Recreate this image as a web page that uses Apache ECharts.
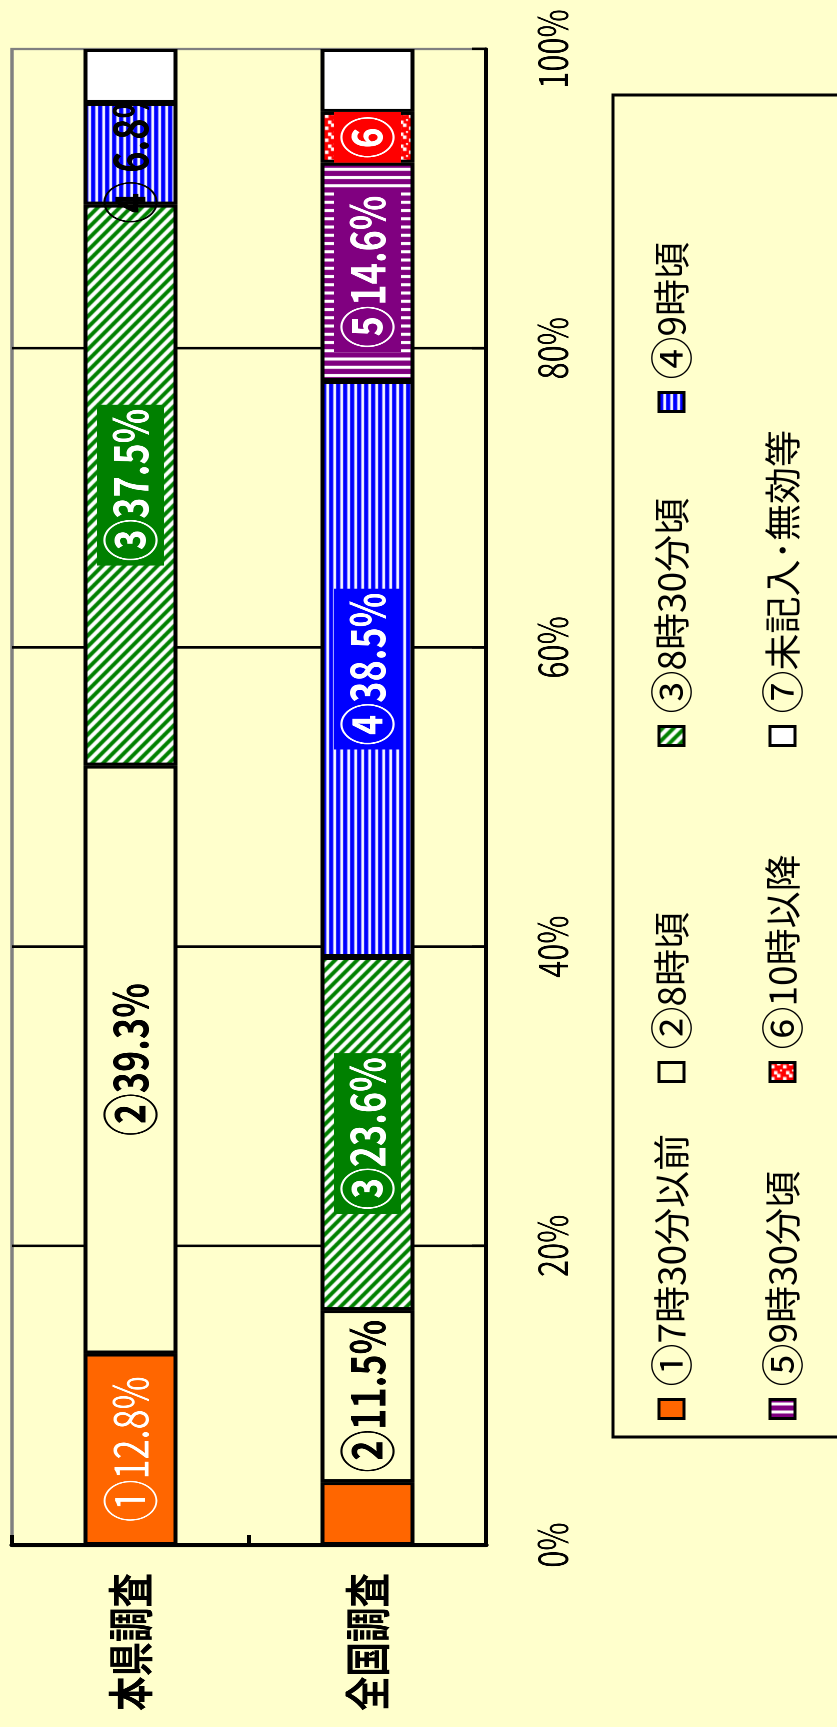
<!DOCTYPE html>
<html>
<head>
<meta charset="utf-8">
<script src="https://cdn.jsdelivr.net/npm/echarts@6/dist/echarts.min.js"></script>
<style>
  html, body { margin: 0; padding: 0; width: 837px; height: 1727px; overflow: hidden; background: #FFFFCC; }
  /* the chart is laid out landscape and turned a quarter turn counter-clockwise */
  #page { position: absolute; left: 0; top: 0; width: 1727px; height: 837px;
          transform-origin: 0 0; transform: translate(0, 1727px) rotate(-90deg); background: #FFFFCC; }
  /* plot area drawn wide and squeezed horizontally for narrow lettering */
  #plot { position: absolute; left: 0; top: 0; width: 2303px; height: 837px;
          transform-origin: 0 0; transform: scaleX(0.75); }
  #legend { position: absolute; left: 0; top: 0; width: 1727px; height: 837px; }
</style>
</head>
<body>
<div id="page"><div id="plot"></div><div id="legend"></div></div>
<script>
// ---- data ----
const categories = ['本県調査', '全国調査'];
const seriesNames = ['①7時30分以前', '②8時頃', '③8時30分頃', '④9時頃', '⑤9時30分頃', '⑥10時以降', '⑦未記入･無効等'];
const prefectureValues = [12.8, 39.3, 37.5, 6.8, 0, 0, 3.6];
const nationalValues = [4.2, 11.5, 23.6, 38.5, 14.6, 3.4, 4.2];
const axisMin = 0, axisMax = 100, axisStep = 20;

// ---- label looks per segment ----
const prefLabelKinds = ['light', 'dark', 'green', 'spaced', '', '', ''];
const natLabelKinds = ['', 'dark', 'green', 'blue', 'purple', 'red', ''];

const SX = 0.75;                 // horizontal squeeze of the plot canvas
const ux = px => px / SX;        // horizontal page px -> plot units
const FONT = '"Noto Sans CJK JP", "Noto Sans", sans-serif';
const LABEL_SIZE = 48, MARK_SIZE = 57;

const LABEL_KINDS = {
  light:  { color: '#fff', weight: 'normal' },
  dark:   { color: '#000' },
  spaced: { color: '#000', spaced: true },
  green:  { color: '#fff', bg: '#008000' },
  blue:   { color: '#fff', bg: '#0000FF' },
  purple: { color: '#fff', bg: '#800080' },
  red:    { color: '#fff', bg: '#FF0000', markOnly: true }
};

function labelFor(kind, name, value) {
  if (!kind) return { show: false };
  const k = LABEL_KINDS[kind];
  const mark = name.charAt(0);
  const rest = k.markOnly ? '' : (k.spaced ? ' ' : '') + value.toFixed(1) + '%';
  const weight = k.weight || 'bold';
  return {
    show: true, position: 'inside',
    formatter: '{m|' + mark + '}' + (rest ? '{v|' + rest + '}' : ''),
    color: k.color, fontWeight: weight, fontSize: LABEL_SIZE, fontFamily: FONT,
    backgroundColor: k.bg || 'transparent', padding: k.bg ? [5, ux(4)] : 0,
    rich: {
      m: { color: k.color, fontWeight: weight, fontSize: MARK_SIZE, fontFamily: FONT },
      v: { color: k.color, fontWeight: weight, fontSize: LABEL_SIZE, fontFamily: FONT }
    }
  };
}

// ---- fill patterns (sx = horizontal squeeze of the target canvas) ----
function tile(w, h, draw) {
  const c = document.createElement('canvas');
  c.width = w; c.height = h;
  draw(c.getContext('2d'), w, h);
  return { image: c, repeat: 'repeat' };
}
function fills(sx) {
  const diag = tile(Math.round(33 / sx), 33, (g, w, h) => {
    const p = w / 3;
    g.fillStyle = '#fff'; g.fillRect(0, 0, w, h);
    g.fillStyle = '#008000';
    for (let k = -4; k <= 4; k++) {
      const x0 = k * p;
      g.beginPath();
      g.moveTo(x0, 0); g.lineTo(x0 + p / 2, 0);
      g.lineTo(x0 + p / 2 + w, h); g.lineTo(x0 + w, h);
      g.closePath(); g.fill();
    }
  });
  const hStripe = tile(4, 7, (g, w) => {
    g.fillStyle = '#fff'; g.fillRect(0, 0, w, 7);
    g.fillStyle = '#0000FF'; g.fillRect(0, 0, w, 4.3);
  });
  const vStripe = tile(Math.round(8.25 / sx), 4, (g, w, h) => {
    g.fillStyle = '#fff'; g.fillRect(0, 0, w, h);
    g.fillStyle = '#800080'; g.fillRect(0, 0, w * 0.63, h);
  });
  const dots = tile(Math.round(12 / sx), 12, (g, w, h) => {
    const f = w / 12;
    g.fillStyle = '#FF0000'; g.fillRect(0, 0, w, h);
    g.fillStyle = '#fff';
    [[1, 1], [7, 4], [4, 7], [10, 10]].forEach(([x, y]) => g.fillRect(x * f, y, 3.5 * f, 3.5));
  });
  return ['#FF6600', '#FFFFCC', diag, hStripe, vStripe, dots, '#FFFFFF'];
}

// ---- plot ----
const plot = echarts.init(document.getElementById('plot'), null, { renderer: 'canvas', devicePixelRatio: 2 });
const fillsA = fills(SX);
plot.setOption({
  animation: false,
  backgroundColor: '#FFFFCC',
  grid: {
    left: ux(182), top: 12, width: ux(1496), height: 474,
    show: true, borderColor: '#808080', borderWidth: 3.5, backgroundColor: 'transparent'
  },
  xAxis: {
    type: 'value', min: axisMin, max: axisMax, interval: axisStep, position: 'bottom',
    axisLine: { show: true, lineStyle: { color: '#000', width: 4 } },
    axisTick: { show: true, inside: true, length: 14, lineStyle: { color: '#000', width: ux(2.6) } },
    splitLine: { show: true, showMinLine: false, showMaxLine: false, lineStyle: { color: '#000', width: ux(2.6) } },
    axisLabel: { formatter: v => v + '%', color: '#000', fontSize: 41, fontFamily: FONT, margin: 46 }
  },
  yAxis: {
    type: 'category', data: categories, inverse: true,
    axisLine: { show: true, lineStyle: { color: '#000', width: ux(4) } },
    axisTick: { show: true, inside: true, length: ux(10), lineStyle: { color: '#000', width: 4 } },
    axisLabel: { color: '#000', fontSize: 46, fontWeight: 'bold', fontFamily: FONT, margin: ux(28) },
    splitLine: { show: false }
  },
  series: seriesNames.map((name, i) => ({
    name, type: 'bar', stack: 'total', barWidth: 94, z: 2 + i,
    emphasis: { disabled: true },
    itemStyle: { color: fillsA[i], borderColor: '#000', borderWidth: 4 },
    data: [
      { value: prefectureValues[i], label: labelFor(prefLabelKinds[i], name, prefectureValues[i]) },
      { value: nationalValues[i], label: labelFor(natLabelKinds[i], name, nationalValues[i]) }
    ]
  }))
});

// ---- legend ----
const legendChart = echarts.init(document.getElementById('legend'), null, { renderer: 'canvas', devicePixelRatio: 2 });
const fillsB = fills(1);
const columnLefts = [307, 644, 980, 1314];
const legends = columnLefts.map((left, c) => ({
  data: [seriesNames[c], seriesNames[c + 4]].filter(Boolean),
  orient: 'vertical', left, top: 650, padding: 0, itemGap: 68,
  icon: 'rect', itemWidth: 19, itemHeight: 25, selectedMode: false,
  itemStyle: { borderColor: '#000', borderWidth: 3 },
  formatter: name => '{m|' + name.charAt(0) + '}{t|' + name.slice(1) + '}',
  textStyle: {
    color: '#000', fontSize: 37, fontFamily: FONT, padding: [0, 0, 0, 8],
    rich: {
      m: { color: '#000', fontSize: 43, fontFamily: FONT },
      t: { color: '#000', fontSize: 37, fontFamily: FONT }
    }
  }
}));
legendChart.setOption({
  animation: false,
  backgroundColor: 'transparent',
  grid: { left: 0, top: 0, width: 10, height: 10, show: false },
  xAxis: { type: 'category', show: false, data: categories },
  yAxis: { type: 'value', show: false },
  graphic: [{
    type: 'rect', silent: true,
    shape: { x: 290, y: 613, width: 1342, height: 400 },
    style: { fill: 'transparent', stroke: '#000', lineWidth: 3 }
  }],
  legend: legends,
  series: seriesNames.map((name, i) => ({ name, type: 'bar', data: [], itemStyle: { color: fillsB[i] } }))
});
</script>
</body>
</html>
